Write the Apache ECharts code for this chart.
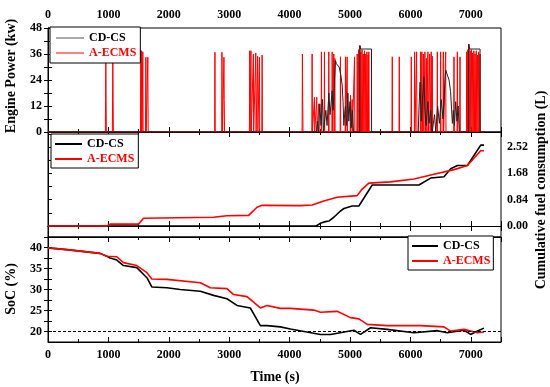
<!DOCTYPE html>
<html><head><meta charset="utf-8">
<script src="https://cdn.jsdelivr.net/npm/echarts@6/dist/echarts.min.js"></script>
<style>html,body{margin:0;padding:0;background:#fff}#c{width:550px;height:387px}</style>
</head><body><div id="c"></div>
<script>
// ---------- data ----------
const xTicks = [0, 1000, 2000, 3000, 4000, 5000, 6000, 7000];
const powerTicks = [0, 12, 24, 36, 48];
const fuelTicks = [0.00, 0.84, 1.68, 2.52];
const socTicks = [20, 25, 30, 35, 40];

// Engine power (kW), A-ECMS: [time s, power kW]
const ecmsPower = [
 [0,0],[950,0],[957,36],[962,15],[966,0],[1066,0],[1073,36],[1078,15],[1082,0],
 [1532,0],[1537,37.5],[1542,0],[1546,0],[1550,37.5],[1556,0],[1565,0],[1570,37],[1575,0],
 [1615,0],[1620,34.5],[1625,0],[1648,0],[1653,34.5],[1658,0],
 [2759,0],[2764,36.8],[2769,0],[2875,0],[2880,36.8],[2885,15],[2890,0],[2908,0],[2913,34.5],[2918,15],[2923,0],
 [3335,0],[3340,37.5],[3345,0],[3355,0],[3360,37.5],[3365,0],[3395,0],[3400,36],[3405,0],[3435,0],[3440,36.5],[3445,0],
 [3465,0],[3470,35],[3475,0],[3495,0],[3500,34.5],[3505,0],[3540,0],[3545,35.5],[3550,0],
 [4207,0],[4212,36],[4217,15],[4222,0],[4368,0],[4373,36],[4378,0],[4406,0],[4411,16],[4416,0],[4445,0],[4450,16],[4455,0],
 [4478,0],[4483,13],[4488,0],[4522,0],[4527,37],[4532,0],[4572,0],[4577,37],[4582,0],[4644,0],[4649,37],[4654,0],
 [4700,0],[4705,37],[4710,0],[4727,0],[4732,36],[4737,0],[4744,0],[4749,34],[4754,0],[4837,0],[4842,34.7],[4847,0],
 [4920,0],[4925,34.7],[4930,0],[4948,0],[4953,34.7],[4958,0],[5003,0],[5008,17],[5013,0],[5031,0],[5036,15],[5041,0],
 [5070,0],[5075,34.7],[5080,0],
 [5114,0],[5119,36],[5129,0],[5140,38],[5150,0],[5163,39.8],[5172,0],[5180,37],[5190,0],[5200,38],[5210,0],
 [5220,36],[5230,0],[5240,37.5],[5250,0],[5260,36],[5270,0],[5280,37],[5290,0],[5300,35.5],[5306,0],[5312,37],[5318,0],
 [5695,0],[5700,34.7],[5705,0],[5811,0],[5816,34.7],[5821,0],
 [6010,0],[6015,34.7],[6020,0],[6065,0],[6070,37],[6075,0],[6098,0],[6103,37],[6108,0],
 [6164,0],[6169,37],[6175,0],[6190,37],[6197,0],[6215,36],[6222,0],[6240,37],[6247,0],[6265,34],[6272,0],
 [6290,37],[6297,0],[6320,36],[6327,0],[6345,37],[6352,0],[6363,35],[6368,0],
 [6441,0],[6446,37],[6451,0],[6496,0],[6501,37],[6506,0],[6540,0],[6545,37],[6550,0],[6579,0],[6584,37],[6589,0],
 [6717,0],[6722,34.7],[6727,0],[6772,0],[6777,37],[6782,0],[6816,0],[6821,34.7],[6826,0],
 [6927,0],[6932,37],[6941,0],[6950,38],[6960,0],[6971,40.5],[6980,0],[6990,37.5],[7000,0],[7010,38],[7020,0],
 [7030,36.5],[7040,0],[7050,37.5],[7060,0],[7070,36],[7080,0],[7090,37.5],[7100,0],[7110,35.5],[7120,0],
 [7130,37],[7140,0],[7153,36],[7158,0],[7220,0]
];
// Engine power (kW), CD-CS
const cdcsPower = [
 [0,0],[4444,0],[4460,5],[4480,0],[4500,13],[4520,3],[4545,15],[4560,0],[4600,10],[4620,3],[4650,18],[4670,8],
 [4705,19],[4720,10],[4745,25],[4760,33],[4775,31.5],[4790,31],[4820,30],[4850,26],[4870,21.7],[4885,14],[4898,3],
 [4910,8],[4925,12],[4945,3],[4965,18],[4980,5],[5000,14],[5020,2],[5040,10],[5058,0],[5160,0],[5163,40],[5175,38.3],
 [5356,38.3],[5357,0],[6130,0],[6141,10],[6160,23],[6180,5],[6200,15],[6224,25.5],[6241,10],[6260,3],[6290,14],
 [6310,4],[6335,10],[6360,0],[6400,8],[6420,0],[6450,12],[6480,4],[6510,15],[6540,6],[6570,22],[6584,28.6],
 [6600,28],[6612,27.8],[6640,24],[6665,18.6],[6695,4],[6710,10],[6730,3],[6750,14],[6770,5],[6790,12],[6810,0],
 [6960,0],[6965,40.5],[6980,38.3],[7153,38.3],[7154,0],[7220,0]
];
// Cumulative fuel consumption (L)
const ecmsFuel = [
 [0,0],[973,0],[1028,0.06],[1498,0.06],[1581,0.25],[2742,0.28],[2963,0.33],[3322,0.34],[3460,0.60],[3544,0.66],
 [4179,0.65],[4373,0.67],[4566,0.80],[4787,0.92],[5119,0.97],[5202,1.18],[5312,1.37],[5672,1.41],[6059,1.50],
 [6391,1.65],[6722,1.80],[6944,1.93],[7164,2.40],[7219,2.40]
];
const cdcsFuel = [
 [0,0],[4440,0],[4520,0.10],[4594,0.14],[4650,0.16],[4732,0.28],[4842,0.48],[4900,0.56],[5036,0.64],[5147,0.64],
 [5368,1.31],[6141,1.31],[6335,1.53],[6556,1.57],[6667,1.83],[6777,1.93],[6944,1.93],[7164,2.58],[7219,2.58]
];
// State of charge (%)
const ecmsSoc = [
 [0,39.9],[310,39.5],[862,38.6],[973,37.9],[1139,37.8],[1249,36.4],[1470,35.7],[1637,34.0],[1719,32.5],[1968,32.4],
 [2521,31.6],[2687,30.4],[2963,30.2],[3073,28.8],[3295,28.3],[3516,25.6],[3626,26.2],[3847,25.5],[4013,25.5],
 [4400,25.1],[4511,24.6],[4787,24.8],[5008,23.3],[5147,23.0],[5285,21.7],[5616,21.4],[6169,21.4],[6556,21.1],
 [6667,20.1],[6888,20.5],[7109,19.7],[7219,19.9]
];
const cdcsSoc = [
 [0,39.9],[310,39.5],[862,38.6],[973,37.9],[1028,37.5],[1139,37.0],[1249,35.7],[1470,35.2],[1637,32.8],[1719,30.6],
 [1968,30.4],[2189,30.0],[2521,29.6],[2742,28.6],[2963,27.8],[3129,26.2],[3350,25.6],[3516,21.4],[3626,21.4],
 [3847,21.1],[4013,20.6],[4511,19.3],[4677,19.3],[5064,20.3],[5174,19.3],[5340,20.9],[5616,20.5],[6059,19.7],
 [6446,20.2],[6612,19.7],[6888,20.3],[6998,19.3],[7109,20.1],[7219,20.8]
];
const socLimit = 20;

// ---------- chart ----------
const FONT = "'Liberation Serif','Times New Roman',serif";
const L = 48, W = 453;
const grids = [
  {left: L, top: 28, width: W, height: 104},
  {left: L, top: 132, width: W, height: 105},
  {left: L, top: 237, width: W, height: 105}
].map(g => Object.assign(g, {show: true, borderColor: '#000', borderWidth: 1, backgroundColor: 'transparent'}));

const lbl = {fontFamily: FONT, fontWeight: 'bold', fontSize: 12, color: '#000'};
function xAx(gi, pos, showLabel) {
  return {
    type: 'value', gridIndex: gi, position: pos, min: 0, max: 7500, interval: 1000,
    axisLine: {show: true, lineStyle: {color: '#000'}},
    axisTick: {show: true, inside: true, length: 5, lineStyle: {color: '#000'}},
    minorTick: {show: true, splitNumber: 2, length: 3, lineStyle: {color: '#000'}},
    axisLabel: Object.assign({show: showLabel, margin: 7, customValues: xTicks, formatter: v => String(v)}, lbl),
    splitLine: {show: false}
  };
}
function yAx(gi, pos, min, max, labels, ticks, showLabel, inside) {
  return {
    type: 'value', gridIndex: gi, position: pos, min: min, max: max,
    axisLine: {show: true, lineStyle: {color: '#000'}},
    axisTick: {show: true, inside: inside, length: 4, customValues: ticks, lineStyle: {color: '#000'}},
    axisLabel: Object.assign({show: showLabel, margin: 6, customValues: labels,
      formatter: v => (gi === 1 ? v.toFixed(2) : String(v))}, lbl),
    splitLine: {show: false}
  };
}
const pTicks = [0,6,12,18,24,30,36,42,48];
const fTicks = [0,0.42,0.84,1.26,1.68,2.10,2.52,2.94];
const sTicks = [20,22.5,25,27.5,30,32.5,35,37.5,40,42.5];

const xAxis = [
  xAx(0, 'top', true), xAx(0, 'bottom', false),
  xAx(1, 'bottom', false), xAx(1, 'top', false),
  xAx(2, 'bottom', true), xAx(2, 'top', false)
];
const yAxis = [
  yAx(0, 'left', 0, 48, powerTicks, pTicks, true, true),
  yAx(0, 'right', 0, 48, powerTicks, pTicks, false, true),
  yAx(1, 'right', -0.35, 3.0, fuelTicks, fTicks, true, false),
  yAx(1, 'left', -0.35, 3.0, fuelTicks, fTicks, false, true),
  yAx(2, 'left', 17.5, 42.5, socTicks, sTicks, true, true),
  yAx(2, 'right', 17.5, 42.5, socTicks, sTicks, false, true)
];

function ln(name, data, xi, yi, color, width, z) {
  return {name: name, type: 'line', data: data, xAxisIndex: xi, yAxisIndex: yi, symbol: 'none',
    lineStyle: {color: color, width: width}, itemStyle: {color: color}, z: z, animation: false};
}
const series = [
  ln('A-ECMS', ecmsPower, 0, 0, '#ff0000', 1, 2),
  ln('CD-CS', cdcsPower, 0, 0, '#222', 1, 3),
  ln('CD-CS', cdcsFuel, 2, 2, '#000', 1.6, 2),
  ln('A-ECMS', ecmsFuel, 2, 2, '#ff0000', 1.6, 3),
  ln('CD-CS', cdcsSoc, 4, 4, '#000', 1.6, 2),
  ln('A-ECMS', ecmsSoc, 4, 4, '#ff0000', 1.6, 3)
];
series.push({
  name: 'limit', type: 'line', xAxisIndex: 4, yAxisIndex: 4, data: [], symbol: 'none', silent: true,
  markLine: {silent: true, symbol: 'none', label: {show: false},
    lineStyle: {color: '#000', type: [3, 2], width: 1}, data: [{yAxis: socLimit}]}
});

function legend(left, top, h, blackCol, pad, iw) {
  return {
    left: left, top: top, orient: 'vertical', borderColor: '#000', borderWidth: 1,
    backgroundColor: '#fff', padding: pad, itemGap: 3, itemWidth: iw, itemHeight: h,
    icon: 'rect',
    textStyle: {fontFamily: FONT, fontWeight: 'bold', fontSize: 12, lineHeight: 12},
    selectedMode: false, z: 10,
    data: [
      {name: 'CD-CS', textStyle: {color: '#000'}, itemStyle: {color: blackCol}},
      {name: 'A-ECMS', textStyle: {color: '#ff0000'}, itemStyle: {color: '#ff0000'}}
    ]
  };
}

const titleStyle = {fontFamily: FONT, fontWeight: 'bold', fontSize: 14, fill: '#000'};
const option = {
  backgroundColor: '#fff',
  animation: false,
  grid: grids,
  xAxis: xAxis,
  yAxis: yAxis,
  series: series,
  legend: [
    legend(50, 27, 1, '#555', [5, 4, 4, 6], 28),
    legend(51, 134, 2, '#000', [4, 4, 3, 4], 27),
    legend(408, 236, 2, '#000', [4, 3, 3, 4], 26)
  ],
  graphic: [
    {type: 'text', x: 11, y: 76, rotation: Math.PI / 2,
      style: Object.assign({text: 'Engine Power (kw)', align: 'center', verticalAlign: 'middle'}, titleStyle)},
    {type: 'text', x: 11, y: 289, rotation: Math.PI / 2,
      style: Object.assign({text: 'SoC (%)', align: 'center', verticalAlign: 'middle'}, titleStyle)},
    {type: 'text', x: 541, y: 190, rotation: Math.PI / 2,
      style: Object.assign({text: 'Cumulative fuel consumption (L)', align: 'center', verticalAlign: 'middle'}, titleStyle)},
    {type: 'text', x: 275, y: 377,
      style: Object.assign({text: 'Time (s)', align: 'center', verticalAlign: 'middle'}, titleStyle)}
  ]
};
const chart = echarts.init(document.getElementById('c'), null, {renderer: 'canvas'});
chart.setOption(option);
</script></body></html>
